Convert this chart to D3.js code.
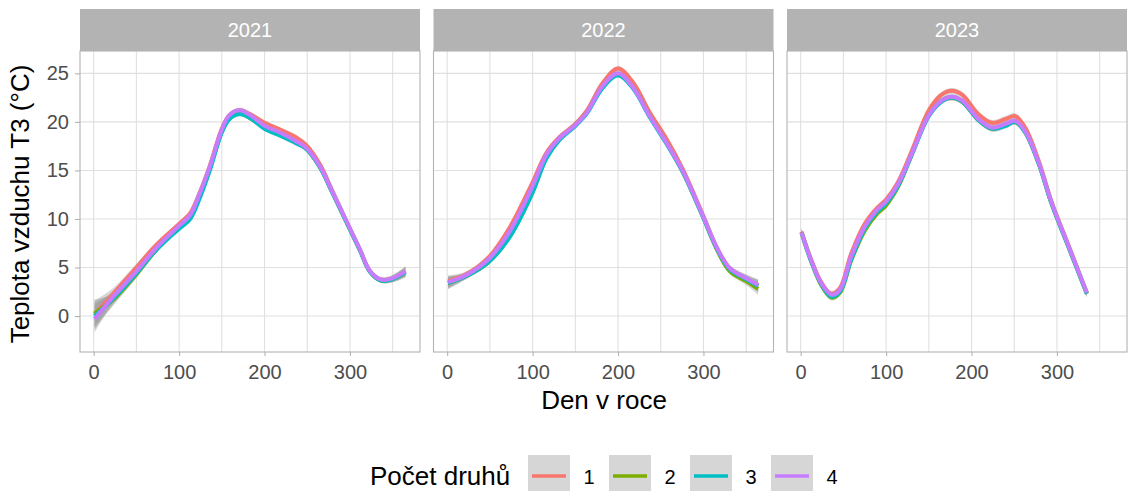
<!DOCTYPE html>
<html>
<head>
<meta charset="utf-8">
<script src="https://cdn.jsdelivr.net/npm/d3@7"></script>
<style>
  body { margin: 0; background: #fff; }
  svg { display: block; }
</style>
</head>
<body>
<div id="drawArea"></div>
<script>
// data: smoothed air temperature per day of year
var years = ["2021", "2022", "2023"];
var groups = ["1", "2", "3", "4"];
var colors = ["#F8766D", "#7CAE00", "#00BFC4", "#C77CFF"];

var xTicks = [0, 100, 200, 300];
var xGrid = [0, 50, 100, 150, 200, 250, 300, 350];
var yTicks = [0, 5, 10, 15, 20, 25];

var days2021 = [1, 23, 50, 73, 100, 113, 124, 136, 150, 159, 171, 183, 200, 218, 237, 249, 265, 280, 299, 312, 323, 335, 347, 365];
var g1_2021 = [0.2, 2.3, 5.0, 7.3, 9.5, 10.6, 12.7, 15.5, 19.3, 20.7, 21.2, 20.8, 19.9, 19.2, 18.4, 17.6, 15.6, 12.8, 9.2, 6.8, 4.7, 3.8, 3.8, 4.6];
var g2_2021 = [0.3, 1.7, 4.3, 6.8, 9.2, 10.3, 12.4, 15.2, 19.0, 20.4, 20.9, 20.4, 19.4, 18.7, 17.9, 17.2, 15.3, 12.6, 9.1, 6.7, 4.6, 3.7, 3.7, 4.5];
var g3_2021 = [0.0, 1.8, 4.4, 6.8, 9.0, 10.0, 12.1, 15.0, 18.9, 20.3, 20.8, 20.4, 19.3, 18.6, 17.8, 17.2, 15.3, 12.6, 9.1, 6.7, 4.6, 3.7, 3.7, 4.5];
var g4_2021 = [-0.3, 2.0, 4.6, 7.0, 9.3, 10.4, 12.6, 15.4, 19.2, 20.7, 21.2, 20.7, 19.6, 18.9, 18.0, 17.3, 15.4, 12.7, 9.2, 6.8, 4.7, 3.8, 3.8, 4.6];
var se2021 = [1.4, 0.6, 0.4, 0.3, 0.25, 0.25, 0.25, 0.25, 0.25, 0.25, 0.25, 0.25, 0.25, 0.25, 0.25, 0.25, 0.25, 0.25, 0.25, 0.25, 0.25, 0.25, 0.3, 0.5];

var days2022 = [1, 22, 49, 73, 99, 116, 131, 149, 163, 182, 200, 218, 237, 257, 276, 299, 316, 331, 350, 364];
var g1_2022 = [3.6, 4.3, 6.1, 9.1, 13.6, 16.8, 18.4, 19.7, 21.1, 24.0, 25.5, 24.0, 21.0, 18.2, 15.1, 10.5, 7.0, 4.9, 3.8, 3.1];
var g2_2022 = [3.4, 4.1, 5.6, 8.2, 12.6, 16.3, 18.2, 19.6, 20.9, 23.6, 24.9, 23.5, 20.6, 17.8, 14.8, 10.3, 6.8, 4.6, 3.6, 2.8];
var g3_2022 = [3.4, 4.1, 5.6, 8.1, 12.5, 16.2, 18.1, 19.5, 20.8, 23.5, 24.8, 23.4, 20.5, 17.7, 14.8, 10.3, 6.9, 4.8, 3.8, 3.1];
var g4_2022 = [3.5, 4.2, 5.9, 8.7, 13.2, 16.6, 18.3, 19.6, 20.9, 23.7, 25.0, 23.5, 20.6, 17.8, 14.9, 10.4, 7.0, 4.9, 3.9, 3.2];
var se2022 = [0.6, 0.3, 0.25, 0.25, 0.25, 0.25, 0.25, 0.25, 0.25, 0.25, 0.25, 0.25, 0.25, 0.25, 0.25, 0.25, 0.25, 0.3, 0.4, 0.6];

var days2023 = [1, 12, 24, 36, 46, 59, 75, 89, 100, 114, 130, 150, 165, 177, 189, 208, 224, 240, 251, 263, 279, 294, 314, 335];
var g1_2023 = [8.7, 5.9, 3.5, 2.3, 2.9, 6.4, 9.5, 11.1, 12.0, 13.8, 17.0, 21.2, 22.8, 23.2, 22.8, 20.8, 19.9, 20.3, 20.6, 19.4, 15.9, 11.7, 7.2, 2.4];
var g2_2023 = [8.6, 5.7, 3.2, 1.9, 2.4, 5.7, 8.8, 10.5, 11.4, 13.3, 16.6, 20.7, 22.2, 22.5, 22.1, 20.2, 19.3, 19.7, 20.0, 18.9, 15.6, 11.5, 7.0, 2.3];
var g3_2023 = [8.6, 5.7, 3.3, 2.0, 2.5, 5.8, 9.0, 10.7, 11.6, 13.4, 16.6, 20.6, 22.1, 22.5, 22.1, 20.2, 19.3, 19.6, 20.0, 18.9, 15.6, 11.5, 7.0, 2.3];
var g4_2023 = [8.6, 5.8, 3.4, 2.2, 2.7, 6.1, 9.2, 10.9, 11.8, 13.6, 16.7, 20.7, 22.2, 22.6, 22.2, 20.3, 19.4, 19.8, 20.1, 19.0, 15.7, 11.6, 7.1, 2.4];
var se2023 = [0.4, 0.3, 0.3, 0.3, 0.3, 0.3, 0.3, 0.3, 0.3, 0.3, 0.3, 0.3, 0.3, 0.3, 0.3, 0.3, 0.3, 0.3, 0.3, 0.3, 0.3, 0.3, 0.3, 0.35];

var panels = [
  { year: "2021", days: days2021, series: [g1_2021, g2_2021, g3_2021, g4_2021], se: se2021 },
  { year: "2022", days: days2022, series: [g1_2022, g2_2022, g3_2022, g4_2022], se: se2022 },
  { year: "2023", days: days2023, series: [g1_2023, g2_2023, g3_2023, g4_2023], se: se2023 }
];

var font = "'Liberation Sans', Arial, Helvetica, sans-serif";
var width = 1129, height = 491;
var panelLeft = [80, 433.5, 787];
var panelW = 340;
var stripTop = 9, stripH = 42;
var panelTop = stripTop + stripH, panelH = 301;

var svg = d3.select("#drawArea").append("svg")
  .attr("width", width)
  .attr("height", height)
  .style("font-family", font);

svg.append("rect").attr("width", width).attr("height", height).attr("fill", "#fff");

var x = d3.scaleLinear().domain([-16, 382]).range([0, panelW]);
var y = d3.scaleLinear().domain([-3.7, 27.3]).range([panelH, 0]);

panels.forEach(function(p, pi) {
  var g = svg.append("g").attr("transform", "translate(" + panelLeft[pi] + "," + panelTop + ")");

  // grid
  g.selectAll("line.vgrid").data(xGrid).enter().append("line")
    .attr("x1", function(d) { return x(d); }).attr("x2", function(d) { return x(d); })
    .attr("y1", 0).attr("y2", panelH)
    .attr("stroke", "#e0e0e0").attr("stroke-width", 1.1);
  g.selectAll("line.hgrid").data(yTicks).enter().append("line")
    .attr("x1", 0).attr("x2", panelW)
    .attr("y1", function(d) { return y(d); }).attr("y2", function(d) { return y(d); })
    .attr("stroke", "#e0e0e0").attr("stroke-width", 1.1);

  var rows = p.series.map(function(vals) {
    return vals.map(function(v, i) { return { d: p.days[i], v: v, se: p.se[i] }; });
  });

  var area = d3.area()
    .x(function(d) { return x(d.d); })
    .y0(function(d) { return y(d.v - d.se); })
    .y1(function(d) { return y(d.v + d.se); })
    .curve(d3.curveCatmullRom.alpha(0.5));

  var line = d3.line()
    .x(function(d) { return x(d.d); })
    .y(function(d) { return y(d.v); })
    .curve(d3.curveCatmullRom.alpha(0.5));

  rows.forEach(function(r) {
    g.append("path").attr("d", area(r))
      .attr("fill", "#999").attr("fill-opacity", 0.4);
  });
  rows.forEach(function(r, i) {
    g.append("path").attr("d", line(r))
      .attr("fill", "none")
      .attr("stroke", colors[i])
      .attr("stroke-width", 4)
      .attr("stroke-linejoin", "round");
  });

  // border
  g.append("rect").attr("x", 0).attr("y", 0).attr("width", panelW).attr("height", panelH)
    .attr("fill", "none").attr("stroke", "#b3b3b3").attr("stroke-width", 1.1);

  // strip
  svg.append("rect")
    .attr("x", panelLeft[pi]).attr("y", stripTop)
    .attr("width", panelW).attr("height", stripH)
    .attr("fill", "#b3b3b3");
  svg.append("text")
    .attr("x", panelLeft[pi] + panelW / 2).attr("y", stripTop + stripH / 2 + 7)
    .attr("text-anchor", "middle")
    .attr("fill", "#fff")
    .attr("font-size", 20)
    .text(p.year);

  // x axis
  var xa = g.append("g").attr("transform", "translate(0," + panelH + ")")
    .call(d3.axisBottom(x).tickValues(xTicks).tickSize(4).tickPadding(9).tickSizeOuter(0));
  xa.select(".domain").remove();
  xa.selectAll("line").attr("stroke", "#b3b3b3").attr("stroke-width", 1.1);
  xa.selectAll("text").attr("fill", "#4d4d4d").attr("font-size", 20).attr("font-family", font);

  if (pi === 0) {
    var ya = g.append("g")
      .call(d3.axisLeft(y).tickValues(yTicks).tickSize(5).tickPadding(6).tickSizeOuter(0));
    ya.select(".domain").remove();
    ya.selectAll("line").attr("stroke", "#b3b3b3").attr("stroke-width", 1.1);
    ya.selectAll("text").attr("fill", "#4d4d4d").attr("font-size", 20).attr("font-family", font);
  }
});

// axis titles
svg.append("text")
  .attr("x", 604).attr("y", 409)
  .attr("text-anchor", "middle")
  .attr("font-size", 26)
  .attr("fill", "#000")
  .text("Den v roce");

svg.append("text")
  .attr("transform", "translate(29,204) rotate(-90)")
  .attr("text-anchor", "middle")
  .attr("font-size", 26)
  .attr("fill", "#000")
  .text("Teplota vzduchu T3 (°C)");

// legend
var legend = svg.append("g");
legend.append("text")
  .attr("x", 370).attr("y", 485)
  .attr("font-size", 26)
  .attr("fill", "#000")
  .text("Počet druhů");

groups.forEach(function(gname, i) {
  var kx = 528 + i * 81;
  legend.append("rect")
    .attr("x", kx).attr("y", 455)
    .attr("width", 42).attr("height", 42)
    .attr("fill", "#d6d6d6");
  legend.append("line")
    .attr("x1", kx + 4).attr("x2", kx + 38)
    .attr("y1", 476).attr("y2", 476)
    .attr("stroke", colors[i]).attr("stroke-width", 3.5);
  legend.append("text")
    .attr("x", kx + 61).attr("y", 484)
    .attr("text-anchor", "middle")
    .attr("font-size", 20)
    .attr("fill", "#000")
    .text(gname);
});
</script>
</body>
</html>
